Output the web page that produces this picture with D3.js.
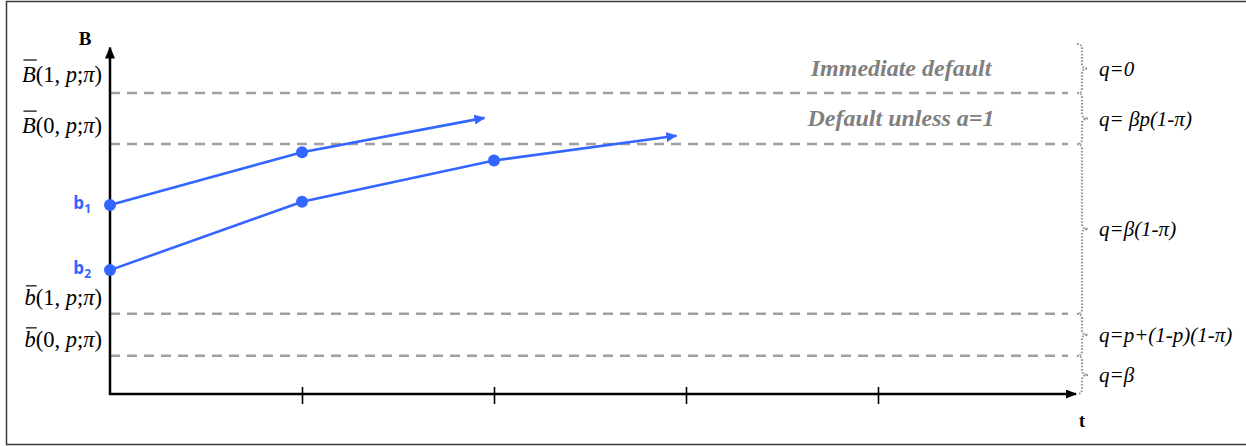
<!DOCTYPE html>
<html>
<head>
<meta charset="utf-8">
<script src="https://cdn.jsdelivr.net/npm/d3@7"></script>
<style>
  html, body { margin: 0; padding: 0; background: #fff; }
  svg { display: block; }
</style>
</head>
<body>
<svg id="chart" width="1246" height="446"></svg>
<script>
// Threshold levels of B (dashed lines), top to bottom
const thresholdLevels = [8.6, 7.14, 2.29, 1.09];
const thresholdLetters = ["B", "B", "b", "b"];
const thresholdIndex = ["1", "0", "1", "0"];

// Band edges for the right-hand braces and their q labels
const bandEdges = [10, 8.6, 7.14, 2.29, 1.09, 0];
const bandLabels = ["q=0", "q= \u03B2p(1-\u03C0)", "q=\u03B2(1-\u03C0)", "q=p+(1-p)(1-\u03C0)", "q=\u03B2"];

// Region names written inside the top two bands
const regionNames = ["Immediate default", "Default unless a=1"];
const regionT = 4.12;

// Time ticks
const timeTicks = [1, 2, 3, 4];

// Paths of B over time: points, then where the arrow points
const pathNames = ["1", "2"];
const pathT = [[0, 1], [0, 1, 2]];
const pathB = [[5.4, 6.91], [3.54, 5.49, 6.67]];
const arrowT = [1.95, 2.95];
const arrowB = [7.89, 7.38];

const BLUE = "#3366ff";
const GRAY = "#a0a0a0";
const SERIF = "'Liberation Serif', 'Times New Roman', serif";

const svg = d3.select("#chart");

// frame
svg.append("rect")
  .attr("x", 6.5).attr("y", 1.5).attr("width", 1260).attr("height", 443)
  .attr("fill", "none").attr("stroke", "#3a3a3a").attr("stroke-width", 1.5);

const x = d3.scaleLinear().domain([0, 5]).range([110, 1070]);
const y = d3.scaleLinear().domain([0, 10]).range([394, 44]);

const defs = svg.append("defs");
function arrowMarker(id, len, wid, color) {
  defs.append("marker")
    .attr("id", id)
    .attr("markerUnits", "userSpaceOnUse")
    .attr("markerWidth", len).attr("markerHeight", wid)
    .attr("viewBox", `0 0 ${len} ${wid}`)
    .attr("refX", len - 1).attr("refY", wid / 2)
    .attr("orient", "auto")
    .append("path")
    .attr("d", `M0,0 L${len},${wid / 2} L0,${wid} Z`)
    .attr("fill", color);
}
arrowMarker("axArrowY", 12, 10, "#000");
arrowMarker("axArrowX", 11, 9, "#000");
arrowMarker("blueArrow", 11, 10, BLUE);

// dashed threshold lines
svg.append("g").selectAll("line")
  .data(thresholdLevels)
  .join("line")
  .attr("x1", x(0)).attr("x2", x(5) - 2)
  .attr("y1", d => y(d)).attr("y2", d => y(d))
  .attr("stroke", GRAY).attr("stroke-width", 2.5)
  .attr("stroke-dasharray", "10 7");

// x axis ticks through d3.axisBottom
const xAxis = d3.axisBottom(x).tickValues(timeTicks).tickSize(10).tickSizeOuter(0).tickFormat("");
const gx = svg.append("g").attr("transform", `translate(0,${y(0)})`).call(xAxis);
gx.select(".domain").remove();
gx.selectAll(".tick line").attr("y1", -7).attr("stroke", "#000").attr("stroke-width", 1.6);

// y axis (no ticks)
const yAxis = d3.axisLeft(y).tickValues([]).tickSizeOuter(0);
const gy = svg.append("g").attr("transform", `translate(${x(0)},0)`).call(yAxis);
gy.select(".domain").remove();

// axis lines with arrowheads
svg.append("line")
  .attr("x1", x(0)).attr("y1", y(0) + 1).attr("x2", x(0)).attr("y2", y(9.9))
  .attr("stroke", "#000").attr("stroke-width", 2.5)
  .attr("marker-end", "url(#axArrowY)");
svg.append("line")
  .attr("x1", x(0) - 1).attr("y1", y(0)).attr("x2", x(5) + 6).attr("y2", y(0))
  .attr("stroke", "#000").attr("stroke-width", 2.5)
  .attr("marker-end", "url(#axArrowX)");

// axis titles
svg.append("text").attr("x", 85).attr("y", 45)
  .attr("text-anchor", "middle").attr("font-family", SERIF)
  .attr("font-weight", "bold").attr("font-size", 19).text("B");
svg.append("text").attr("x", 1082).attr("y", 427)
  .attr("text-anchor", "middle").attr("font-family", SERIF)
  .attr("font-weight", "bold").attr("font-size", 18).text("t");

// threshold labels on the left, e.g. B̄(1, p;π)
thresholdLevels.forEach((lv, i) => {
  const letter = thresholdLetters[i];
  const base = y(lv) - (letter === "B" ? 11 : 9);
  const t = svg.append("text")
    .attr("x", 102).attr("y", base)
    .attr("text-anchor", "end")
    .attr("font-family", SERIF).attr("font-size", 22.5);
  const parts = [
    [letter, true], ["(" + thresholdIndex[i] + ", ", false],
    ["p", true], [";", false], ["\u03C0", true], [")", false]
  ];
  parts.forEach(([s, it]) => {
    t.append("tspan").attr("font-style", it ? "italic" : "normal").text(s);
  });
  const box = t.node().getExtentOfChar(0);
  const barY = base - (letter === "B" ? 22 : 19);
  svg.append("line")
    .attr("x1", box.x + 1.5).attr("x2", box.x + box.width + 1)
    .attr("y1", barY).attr("y2", barY)
    .attr("stroke", "#000").attr("stroke-width", 1.2);
});

// region names inside the top bands
regionNames.forEach((name, i) => {
  const mid = (y(bandEdges[i]) + y(bandEdges[i + 1])) / 2;
  svg.append("text")
    .attr("x", x(regionT)).attr("y", mid + 7)
    .attr("text-anchor", "middle")
    .attr("font-family", SERIF).attr("font-size", 24)
    .attr("font-weight", "bold").attr("font-style", "italic")
    .attr("fill", "#808080")
    .text(name);
});

// dotted braces and q labels on the right
function bracePath(x0, y0, y1) {
  const xc = x0 + 5, xt = x0 + 11;
  const ym = (y0 + y1) / 2;
  const r = Math.min(5, (y1 - y0) / 4);
  return `M${x0},${y0} Q${xc},${y0} ${xc},${y0 + r} L${xc},${ym - r} ` +
         `Q${xc},${ym} ${xt},${ym} Q${xc},${ym} ${xc},${ym + r} ` +
         `L${xc},${y1 - r} Q${xc},${y1} ${x0},${y1}`;
}
const braceX = x(5) + 7;
bandLabels.forEach((lab, i) => {
  const y0 = y(bandEdges[i]), y1 = y(bandEdges[i + 1]);
  svg.append("path")
    .attr("d", bracePath(braceX, y0, y1))
    .attr("fill", "none").attr("stroke", "#999")
    .attr("stroke-width", 2.2).attr("stroke-dasharray", "1.6 1.6");
  svg.append("text")
    .attr("x", braceX + 22).attr("y", (y0 + y1) / 2 + 7)
    .attr("font-family", SERIF).attr("font-size", 21)
    .attr("font-style", "italic").text(lab);
});

// blue paths of B
pathNames.forEach((nm, i) => {
  const pts = pathT[i].map((t, j) => [x(t), y(pathB[i][j])]);
  const end = [x(arrowT[i]), y(arrowB[i])];
  const g = svg.append("g");
  g.append("path")
    .attr("d", d3.line()(pts.concat([end])))
    .attr("fill", "none").attr("stroke", BLUE).attr("stroke-width", 2.6)
    .attr("marker-end", "url(#blueArrow)");
  g.selectAll("circle").data(pts).join("circle")
    .attr("cx", d => d[0]).attr("cy", d => d[1]).attr("r", 6)
    .attr("fill", BLUE);
  const lbl = g.append("text")
    .attr("x", 91).attr("y", pts[0][1] + 4)
    .attr("text-anchor", "end")
    .attr("font-family", "'Open Sans', 'Liberation Sans', sans-serif")
    .attr("font-weight", "bold").attr("font-size", 17).attr("fill", BLUE);
  lbl.append("tspan").text("b");
  lbl.append("tspan").attr("font-size", 12).attr("dy", 4).text(nm);
});
</script>
</body>
</html>
